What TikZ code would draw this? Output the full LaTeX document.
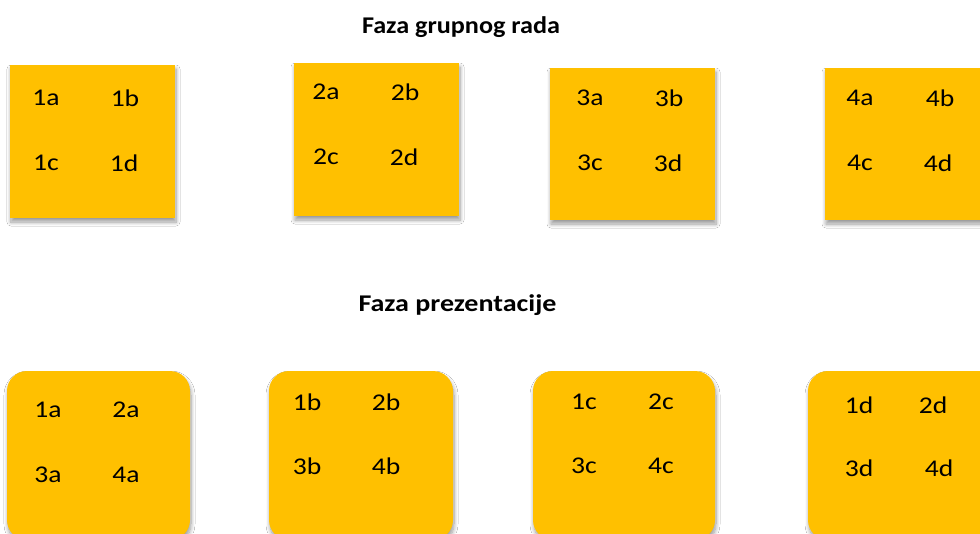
\documentclass[tikz,border=0pt]{standalone}
\usepackage{fontspec}
\setmainfont{Carlito}
\usetikzlibrary{shadows.blur}
\definecolor{gold}{HTML}{FFC000}
\newcommand{\lw}[1]{\scalebox{1.15}[1]{#1}}
\newcommand{\tw}[1]{\resizebox{198pt}{\height}{#1}}
\tikzset{
  card/.style={fill=gold, draw=none, blur shadow={shadow xshift=1pt, shadow yshift=-4pt, shadow blur steps=8, shadow blur radius=4pt, shadow opacity=40}},
  rcard/.style={card, rounded corners=20pt},
  lbl/.style={font=\fontsize{24}{28}\selectfont, text=black, inner sep=0pt},
  ttl/.style={font=\bfseries\fontsize{24}{28}\selectfont, text=black, inner sep=0pt}
}
\begin{document}
\begin{tikzpicture}[x=1pt,y=-1pt]
\useasboundingbox (0,0) rectangle (980,533);
\clip (0,0) rectangle (980,533);
\fill[white] (0,0) rectangle (980,533);
\node[ttl] (t1) at (461,27) {\tw{Faza grupnog rada}};
\node[ttl] (t2) at (457.5,305) {\tw{Faza prezentacije}};
% top row
\path[card] (10,65) rectangle (175,218);
\path[card] (294,63) rectangle (459,216);
\path[card] (550,68) rectangle (715,220);
\path[card] (825,68) rectangle (990,220);
\node[lbl] (l1a) at (46,98) {\lw{1a}};
\node[lbl] (l1b) at (125,98) {\lw{1b}};
\node[lbl] (l1c) at (46,163) {\lw{1c}};
\node[lbl] (l1d) at (124,163) {\lw{1d}};
\node[lbl] (l2a) at (326,92) {\lw{2a}};
\node[lbl] (l2b) at (405,92) {\lw{2b}};
\node[lbl] (l2c) at (326,157) {\lw{2c}};
\node[lbl] (l2d) at (404,157) {\lw{2d}};
\node[lbl] (l3a) at (590,98) {\lw{3a}};
\node[lbl] (l3b) at (669,98) {\lw{3b}};
\node[lbl] (l3c) at (590,163) {\lw{3c}};
\node[lbl] (l3d) at (668,163) {\lw{3d}};
\node[lbl] (l4a) at (860,98) {\lw{4a}};
\node[lbl] (l4b) at (940,98) {\lw{4b}};
\node[lbl] (l4c) at (860,163) {\lw{4c}};
\node[lbl] (l4d) at (938,163) {\lw{4d}};
% bottom row
\path[rcard] (7,371) rectangle (190,540);
\path[rcard] (269,371) rectangle (453,540);
\path[rcard] (533,371) rectangle (715,540);
\path[rcard] (808,371) rectangle (1000,540);
\node[lbl] (p1a) at (48,410) {\lw{1a}};
\node[lbl] (p2a) at (126,410) {\lw{2a}};
\node[lbl] (p3a) at (48,475) {\lw{3a}};
\node[lbl] (p4a) at (126,475) {\lw{4a}};
\node[lbl] (p1b) at (307,402) {\lw{1b}};
\node[lbl] (p2b) at (386,402) {\lw{2b}};
\node[lbl] (p3b) at (307,466) {\lw{3b}};
\node[lbl] (p4b) at (386,466) {\lw{4b}};
\node[lbl] (p1c) at (584,402) {\lw{1c}};
\node[lbl] (p2c) at (661,402) {\lw{2c}};
\node[lbl] (p3c) at (584,466) {\lw{3c}};
\node[lbl] (p4c) at (661,466) {\lw{4c}};
\node[lbl] (p1d) at (859,405) {\lw{1d}};
\node[lbl] (p2d) at (933,405) {\lw{2d}};
\node[lbl] (p3d) at (859,468) {\lw{3d}};
\node[lbl] (p4d) at (939,468) {\lw{4d}};
\end{tikzpicture}
\end{document}
